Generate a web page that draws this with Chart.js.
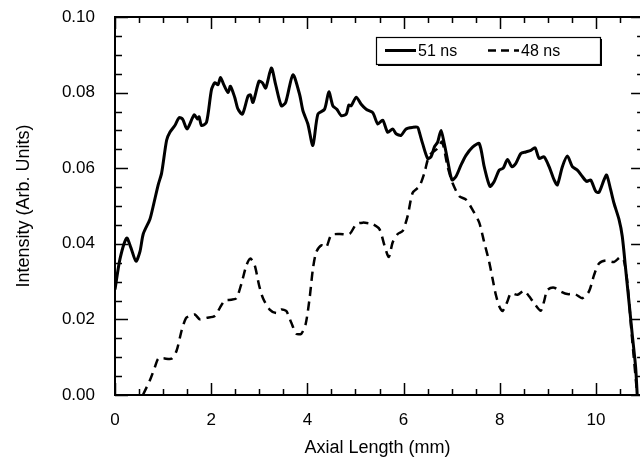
<!DOCTYPE html>
<html><head><meta charset="utf-8">
<script src="https://cdn.jsdelivr.net/npm/chart.js@4.4.0/dist/chart.umd.min.js"></script>
<style>html,body{margin:0;padding:0;background:#fff}canvas{display:block}</style>
</head><body>
<canvas id="c" width="640" height="459" style="width:640px;height:459px"></canvas>
<script>
// ---- data ----
const axialLength51 = [0,0.104,0.243,0.33,0.436,0.52,0.587,0.726,0.795,0.898,
0.969,1.073,1.141,1.245,1.334,1.405,1.5,1.645,1.716,1.749,
1.799,1.902,2.006,2.075,2.143,2.193,2.261,2.351,2.4,2.49,
2.558,2.649,2.766,2.815,2.869,2.994,3.064,3.133,3.251,3.34,
3.458,3.548,3.699,3.838,3.907,4.01,4.114,4.218,4.357,4.446,
4.529,4.612,4.703,4.807,4.861,4.911,5.015,5.118,5.222,5.359,
5.463,5.566,5.67,5.774,5.844,5.948,6.052,6.189,6.293,6.328,
6.396,6.5,6.571,6.639,6.708,6.778,6.846,6.915,7.006,7.089,
7.193,7.297,7.434,7.573,7.676,7.795,7.884,7.988,8.071,8.16,
8.251,8.334,8.438,8.542,8.645,8.734,8.817,8.921,9.025,9.129,
9.197,9.301,9.405,9.508,9.612,9.716,9.807,9.89,9.994,10.062,
10.166,10.222,10.305,10.373,10.477,10.546,10.616,10.685,10.753,10.824,
10.857];
const intensity51 = [0.0279,0.036,0.0415,0.039,0.0354,0.038,0.0426,0.0465,0.050,0.0556,
0.0587,0.0674,0.0695,0.0713,0.0734,0.073,0.0704,0.0741,0.073,0.0736,
0.0713,0.0721,0.0808,0.0826,0.0821,0.084,0.0821,0.080,0.0817,0.0787,
0.0756,0.0743,0.0791,0.0794,0.0774,0.083,0.0826,0.0812,0.0865,0.0821,
0.0765,0.0774,0.0847,0.0795,0.0752,0.0717,0.066,0.0743,0.0756,0.0802,
0.0765,0.0756,0.0739,0.0743,0.0767,0.0765,0.0788,0.0769,0.0756,0.0747,
0.0717,0.0727,0.0695,0.0704,0.0691,0.0687,0.0704,0.0708,0.0708,0.0695,
0.0665,0.0626,0.063,0.0656,0.0669,0.070,0.0665,0.0621,0.0569,0.0578,
0.0608,0.0634,0.0656,0.0665,0.0604,0.0552,0.0565,0.0595,0.060,0.0623,
0.0604,0.0613,0.0639,0.0643,0.0647,0.0654,0.0626,0.063,0.0604,0.0569,
0.0556,0.0604,0.0632,0.0604,0.0595,0.0578,0.0565,0.0569,0.0539,0.0536,
0.0569,0.0582,0.0543,0.0508,0.0465,0.042,0.0334,0.0248,0.0161,0.0074,
0.0];
const axialLength48 = [0.58,0.726,0.83,0.898,1.0,1.175,1.28,1.384,1.473,1.556,
1.66,1.764,1.902,2.075,2.178,2.282,2.421,2.525,2.629,2.732,
2.815,2.905,2.994,3.077,3.216,3.354,3.458,3.562,3.666,3.77,
3.873,3.963,4.046,4.115,4.184,4.288,4.392,4.495,4.668,4.876,
5.015,5.152,5.29,5.359,5.498,5.602,5.692,5.774,5.878,5.982,
6.085,6.189,6.328,6.432,6.5,6.571,6.708,6.8,6.915,7.02,
7.158,7.297,7.434,7.573,7.676,7.78,7.849,7.918,7.988,8.057,
8.16,8.23,8.368,8.506,8.61,8.714,8.852,8.921,8.99,9.129,
9.267,9.405,9.564,9.716,9.855,9.959,10.062,10.2,10.373,10.512,
10.58,10.65,10.75,10.857];
const intensity48 = [0,0.0039,0.0074,0.0096,0.0097,0.0096,0.0117,0.017,0.0203,0.0209,
0.0213,0.020,0.0204,0.0209,0.023,0.025,0.0252,0.0256,0.0295,0.0343,
0.0361,0.0343,0.0291,0.0256,0.0226,0.0217,0.0226,0.0222,0.0191,0.0162,
0.0162,0.0187,0.0256,0.0334,0.0378,0.0396,0.0391,0.0423,0.0426,0.0426,
0.0452,0.0456,0.0454,0.0452,0.0439,0.0396,0.0365,0.0404,0.0426,0.0434,
0.0474,0.0535,0.0552,0.0587,0.0621,0.0639,0.0652,0.067,0.0604,0.056,
0.0526,0.0517,0.049,0.0456,0.0404,0.0352,0.0308,0.0265,0.0235,0.0222,
0.0248,0.0269,0.0265,0.0276,0.0261,0.0243,0.0223,0.0248,0.0278,0.0284,
0.0274,0.0267,0.0267,0.0256,0.0274,0.0317,0.0348,0.0356,0.0352,0.0365,
0.0356,0.030,0.015,0];
const seriesLabels = ['51 ns', '48 ns'];
const xTickValues = [0, 2, 4, 6, 8, 10];
const yTickValues = [0, 0.02, 0.04, 0.06, 0.08, 0.10];
const xTitle = 'Axial Length (mm)';
const yTitle = 'Intensity (Arb. Units)';

const FONT = '"Liberation Sans", Arial, Helvetica, sans-serif';
Chart.defaults.font.family = FONT;
Chart.defaults.color = '#000';

const toPts = (xs, ys) => xs.map((x, i) => ({x, y: ys[i]}));

const framePlugin = {
  id: 'frameTicks',
  afterDraw(chart) {
    const {ctx, chartArea: a, scales: {x, y}} = chart;
    const right = x.getPixelForValue(11); // frame edge lies just past the canvas
    ctx.save();
    ctx.strokeStyle = '#000';
    ctx.lineWidth = 2;
    ctx.beginPath();
    ctx.rect(a.left, a.top, right - a.left, a.bottom - a.top);
    ctx.stroke();
    ctx.lineWidth = 1.5;
    ctx.beginPath();
    for (let i = 0; i <= 22; i++) {
      const px = Math.round(x.getPixelForValue(i * 0.5)) + 0.5;
      const L = i % 4 === 0 ? 12 : 6;
      ctx.moveTo(px, a.bottom); ctx.lineTo(px, a.bottom - L);
      ctx.moveTo(px, a.top); ctx.lineTo(px, a.top + L);
    }
    for (let i = 0; i <= 20; i++) {
      const py = Math.round(y.getPixelForValue(i * 0.005)) + 0.5;
      const L = i % 4 === 0 ? 13 : 7;
      ctx.moveTo(a.left, py); ctx.lineTo(a.left + L, py);
      ctx.moveTo(right, py); ctx.lineTo(right - L, py);
    }
    ctx.stroke();

    // legend box
    const bx = 376, by = 37, bw = 224, bh = 27;
    ctx.fillStyle = '#fff';
    ctx.fillRect(bx, by, bw, bh);
    ctx.fillStyle = '#000';
    ctx.fillRect(bx + 2, by + bh, bw, 2);
    ctx.fillRect(bx + bw, by + 2, 2, bh);
    ctx.lineWidth = 1.2;
    ctx.strokeRect(bx + 0.5, by + 0.5, bw, bh);
    const ly = by + 13.5;
    ctx.lineWidth = 3;
    ctx.beginPath(); ctx.moveTo(bx + 9, ly); ctx.lineTo(bx + 40, ly); ctx.stroke();
    ctx.lineWidth = 2.5;
    ctx.setLineDash([8, 5]);
    ctx.beginPath(); ctx.moveTo(bx + 112, ly); ctx.lineTo(bx + 143, ly); ctx.stroke();
    ctx.setLineDash([]);
    ctx.font = '16px ' + FONT;
    ctx.textBaseline = 'middle';
    ctx.textAlign = 'left';
    ctx.fillText(seriesLabels[0], bx + 42, ly + 1);
    ctx.fillText(seriesLabels[1], bx + 145, ly + 1);
    ctx.restore();
  }
};

new Chart(document.getElementById('c'), {
  type: 'line',
  data: {
    datasets: [
      {label: seriesLabels[0], data: toPts(axialLength51, intensity51), borderColor: '#000',
       borderWidth: 3, pointRadius: 0, tension: 0.25, fill: false, borderJoinStyle: 'round'},
      {label: seriesLabels[1], data: toPts(axialLength48, intensity48), borderColor: '#000',
       borderWidth: 2.5, borderDash: [9, 6], pointRadius: 0, tension: 0.25, fill: false}
    ]
  },
  options: {
    responsive: false,
    animation: false,
    devicePixelRatio: 1,
    layout: {padding: {left: 0, right: 0, top: 17, bottom: 0}},
    plugins: {legend: {display: false}, tooltip: {enabled: false}},
    scales: {
      x: {
        type: 'linear', min: 0, max: 10.915,
        grid: {display: false}, border: {display: false},
        ticks: {font: {size: 17}, padding: 7, maxRotation: 0, autoSkip: false,
                callback: v => String(v)},
        afterBuildTicks: s => { s.ticks = xTickValues.map(v => ({value: v})); },
        afterFit: s => { s.height = 64; s.paddingLeft = 0; s.paddingRight = 0; },
        title: {display: true, text: xTitle, font: {size: 18}, padding: {top: 0, bottom: 0}}
      },
      y: {
        type: 'linear', min: 0, max: 0.1,
        grid: {display: false}, border: {display: false},
        ticks: {font: {size: 17}, padding: 12, autoSkip: false,
                callback: v => v.toFixed(2)},
        afterBuildTicks: s => { s.ticks = yTickValues.map(v => ({value: v})); },
        afterFit: s => { s.width = 115; s.paddingTop = 0; s.paddingBottom = 0; },
        title: {display: true, text: yTitle, font: {size: 18}, padding: {top: 13, bottom: 0}}
      }
    }
  },
  plugins: [framePlugin]
});
</script>
</body></html>
